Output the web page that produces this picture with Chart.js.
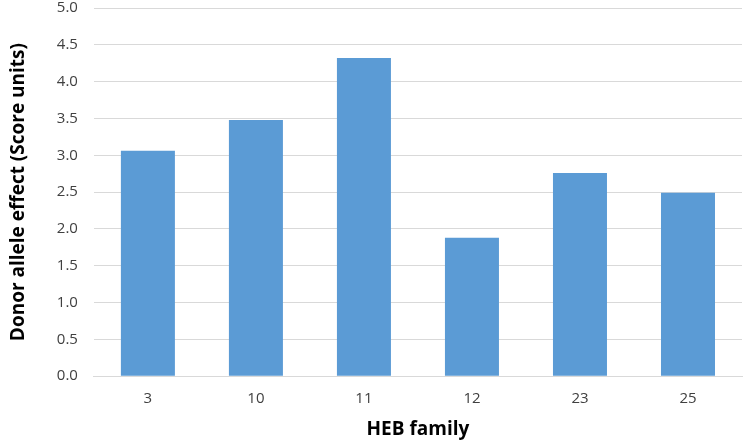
<!DOCTYPE html>
<html lang="en">
<head>
<meta charset="UTF-8">
<title>Donor allele effect</title>
<script src="https://cdn.jsdelivr.net/npm/chart.js"></script>
<style>
  html, body { margin: 0; padding: 0; background: #fff; }
  #wrap { width: 745px; height: 441px; }
</style>
</head>
<body>
<div id="wrap"><canvas id="effectChart" width="745" height="441"></canvas></div>
<script>
// Chart data
const families = ['3', '10', '11', '12', '23', '25'];
const alleleEffect = [3.06, 3.48, 4.32, 1.88, 2.76, 2.49];

const ctx = document.getElementById('effectChart').getContext('2d');
new Chart(ctx, {
  type: 'bar',
  data: {
    labels: families,
    datasets: [{
      label: 'Donor allele effect',
      data: alleleEffect,
      backgroundColor: '#5B9BD5',
      categoryPercentage: 1.0,
      barPercentage: 0.5
    }]
  },
  options: {
    responsive: false,
    animation: false,
    layout: { padding: { top: 0, right: 3, bottom: 0, left: 7 } },
    plugins: {
      legend: { display: false },
      tooltip: { enabled: false }
    },
    scales: {
      x: {
        grid: { display: false },
        border: { color: '#d9d9d9', width: 1 },
        ticks: { color: '#404040', font: { family: 'Open Sans', size: 15 }, padding: 6 },
        title: {
          display: true,
          text: 'HEB family',
          color: '#000',
          font: { family: 'Open Sans', size: 19, weight: 'bold' },
          padding: { top: 4, bottom: 0 }
        }
      },
      y: {
        min: 0,
        max: 5,
        // keep the 5.0 gridline close to the top edge, as in the original
        afterFit: scale => { scale.paddingTop = 8; },
        ticks: {
          stepSize: 0.5,
          color: '#404040',
          font: { family: 'Open Sans', size: 15 },
          padding: 16,
          callback: v => v.toFixed(1)
        },
        grid: { color: '#d9d9d9', drawTicks: false },
        border: { display: false },
        title: {
          display: true,
          text: 'Donor allele effect (Score units)',
          color: '#000',
          font: { family: 'Open Sans', size: 19, weight: 'bold' },
          padding: { top: 0, bottom: 11 }
        }
      }
    }
  }
});
</script>
</body>
</html>
